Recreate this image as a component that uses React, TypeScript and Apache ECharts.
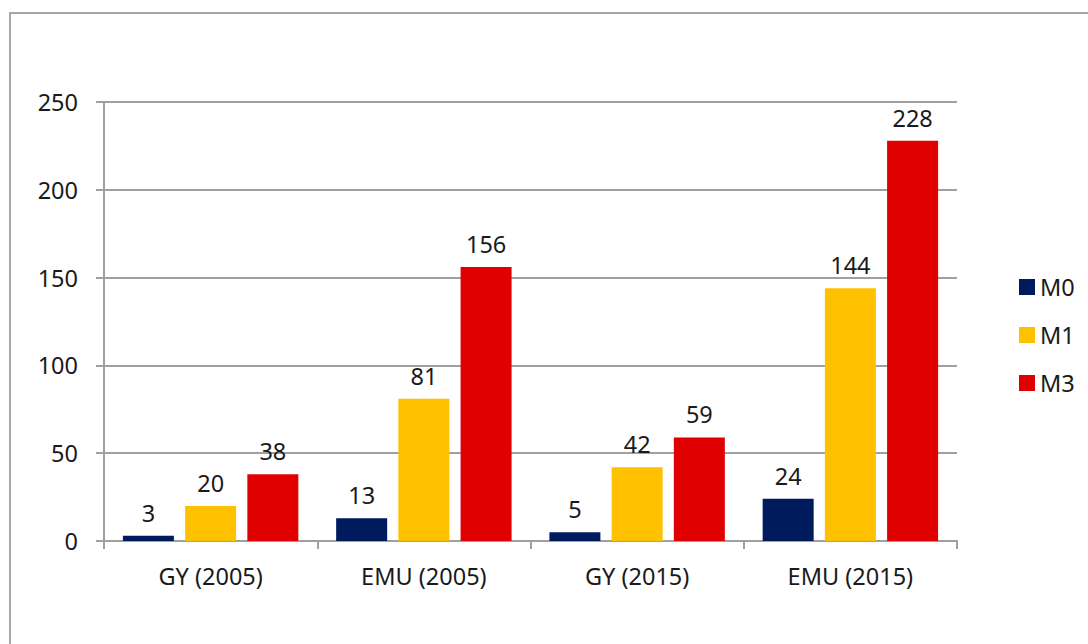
import React, { useEffect, useRef } from "react";
import * as echarts from "echarts";

const categories = ["GY (2005)", "EMU (2005)", "GY (2015)", "EMU (2015)"];
const seriesNames = ["M0", "M1", "M3"];
const m0 = [3, 13, 5, 24];
const m1 = [20, 81, 42, 144];
const m3 = [38, 156, 59, 228];
const colors = ["#001a5e", "#ffc000", "#e00000"];

export default function App() {
  const ref = useRef<HTMLDivElement>(null);
  useEffect(() => {
    if (!ref.current) return;
    const chart = echarts.init(ref.current, undefined, { renderer: "svg" });
    const font = "Noto Sans";
    const fs = 23.5;
    const label = {
      show: true,
      position: "top",
      distance: 11,
      color: "#1a1a1a",
      fontSize: fs,
      fontFamily: font,
    };
    const values = [m0, m1, m3];
    chart.setOption({
      animation: false,
      backgroundColor: "#ffffff",
      graphic: [
        {
          type: "rect",
          shape: { x: 10, y: 13, width: 1100, height: 660 },
          style: { fill: "none", stroke: "#a6a6a6", lineWidth: 2 },
          silent: true,
          z: -1,
        },
      ],
      grid: { left: 104, right: 131, top: 102, bottom: 103, containLabel: false },
      legend: {
        orient: "vertical",
        left: 1014,
        top: 270,
        itemWidth: 16,
        itemHeight: 16,
        itemGap: 24,
        icon: "rect",
        textStyle: { fontSize: fs, fontFamily: font, color: "#1a1a1a", padding: [0, 0, 0, 0] },
        data: seriesNames,
      },
      xAxis: {
        type: "category",
        data: categories,
        axisLine: { lineStyle: { color: "#a0a0a0", width: 2 } },
        axisTick: { show: true, length: 8, lineStyle: { color: "#a0a0a0", width: 2 } },
        axisLabel: { fontSize: fs, fontFamily: font, color: "#1a1a1a", margin: 23 },
      },
      yAxis: {
        type: "value",
        min: 0,
        max: 250,
        interval: 50,
        axisLine: { show: true, lineStyle: { color: "#a0a0a0", width: 2 } },
        axisTick: { show: true, length: 8, lineStyle: { color: "#a0a0a0", width: 2 } },
        splitLine: { show: true, lineStyle: { color: "#a0a0a0", width: 2 } },
        axisLabel: { fontSize: fs, fontFamily: font, color: "#1a1a1a", margin: 26 },
      },
      series: seriesNames.map((n, i) => ({
        name: n,
        type: "bar",
        data: values[i],
        barWidth: 51,
        barGap: "22%",
        itemStyle: { color: colors[i] },
        label,
      })),
    });
    return () => chart.dispose();
  }, []);
  return (
    <div
      ref={ref}
      style={{ position: "absolute", left: 0, top: 0, width: 1088, height: 644 }}
    />
  );
}
